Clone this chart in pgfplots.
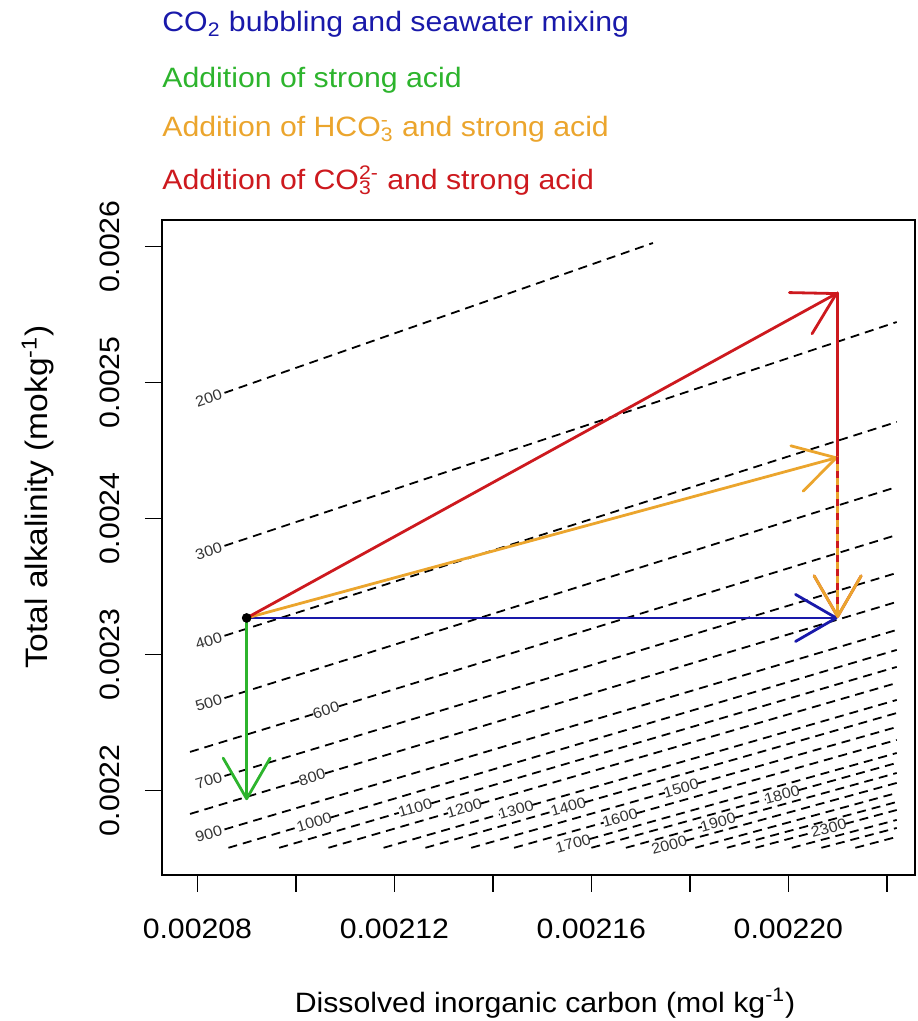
\documentclass[border=0pt]{standalone}
\usepackage{fontspec}
\setmainfont{Liberation Sans}[FakeStretch=1.08]
\usepackage{pgfplots}
\pgfplotsset{compat=1.18}
\usetikzlibrary{arrows.meta}
\definecolor{myblue}{RGB}{25,25,170}
\definecolor{mygreen}{RGB}{45,180,45}
\definecolor{myorange}{RGB}{235,165,45}
\definecolor{myred}{RGB}{205,25,30}
\newcommand{\sbsp}[2]{\mbox{\rlap{\textsuperscript{#2}}\textsubscript{#1}}}
\newcommand{\spsb}[2]{\mbox{\rlap{\textsubscript{#1}}\textsuperscript{#2}}}
\tikzset{
  cont/.style={black, line width=0.9pt, dash pattern=on 4.5pt off 3pt},
  arr/.style={line width=1.4pt, line cap=round, -{Straight Barb[angle=60:23.5pt, round]}},
  clab/.style={font=\fontsize{7.5}{8}\selectfont, text=black!80, inner sep=0pt},
}
\begin{document}
\begin{tikzpicture}[x=1pt,y=1pt,font=\fontsize{14}{16}\selectfont]
\path[use as bounding box] (0,0) rectangle (458.5,510.5);
\begin{axis}[
  at={(81pt,73pt)}, anchor=south west,
  scale only axis, width=376.5pt, height=327.5pt,
  xmin=2072.81, xmax=2225.71, ymin=2138.0, ymax=2619.6,
  axis line style={line width=0.8pt},
  xtick={2080,2100,...,2220},
  xticklabels={0.00208,,0.00212,,0.00216,,0.00220,},
  ytick={2200,2300,...,2600},
  yticklabels={0.0022,0.0023,0.0024,0.0025,0.0026},
  tick align=outside, major tick length=8.5pt,
  xtick pos=bottom, ytick pos=left,
  tick style={black, line width=0.8pt},
  xticklabel style={font=\fontsize{14}{16}\selectfont},
  yticklabel style={rotate=90, anchor=south, font=\fontsize{14}{16}\selectfont},
  xticklabel shift=10pt, yticklabel shift=9pt,
]
% contour lines (pCO2 isolines)
\addplot[cont] coordinates {(2085.5,2492.5) (2172.5,2602.7)};
\addplot[cont] coordinates {(2085.5,2380.0) (2222,2544.6)};
\addplot[cont] coordinates {(2085.5,2313.9) (2222,2471.1)};
\addplot[cont] coordinates {(2085.5,2268.1) (2222,2423.3)};
\addplot[cont] coordinates {(2078.5,2228.5) (2103.5,2256.2)};
\addplot[cont] coordinates {(2108.7,2262.0) (2222,2388.0)};
\addplot[cont] coordinates {(2085.5,2210.8) (2222,2360.1)};
\addplot[cont] coordinates {(2078.5,2182.9) (2100.7,2207.1)};
\addplot[cont] coordinates {(2105.9,2212.7) (2222,2338.8)};
\addplot[cont] coordinates {(2085.5,2171.5) (2222,2318.2)};
\addplot[cont] coordinates {(2086.3,2158) (2100.4,2173.1)};
\addplot[cont] coordinates {(2107.0,2180.2) (2222,2303.5)};
\addplot[cont] coordinates {(2096.6,2158) (2120.9,2183.7)};
\addplot[cont] coordinates {(2127.5,2190.7) (2222,2291.0)};
\addplot[cont] coordinates {(2106.6,2158) (2130.9,2183.5)};
\addplot[cont] coordinates {(2137.5,2190.5) (2222,2279.2)};
\addplot[cont] coordinates {(2117.8,2158) (2141.4,2182.6)};
\addplot[cont] coordinates {(2148.0,2189.5) (2222,2266.7)};
\addplot[cont] coordinates {(2126.3,2158) (2152.0,2184.6)};
\addplot[cont] coordinates {(2158.6,2191.4) (2222,2257.1)};
\addplot[cont] coordinates {(2135.6,2158) (2174.9,2198.4)};
\addplot[cont] coordinates {(2181.5,2205.2) (2222,2246.8)};
\addplot[cont] coordinates {(2144.3,2158) (2162.5,2176.5)};
\addplot[cont] coordinates {(2169.1,2183.3) (2222,2237.3)};
\addplot[cont] coordinates {(2159.6,2164.4) (2222,2227.7)};
\addplot[cont] coordinates {(2160.0,2158) (2195.4,2193.6)};
\addplot[cont] coordinates {(2202.0,2200.3) (2222,2220.4)};
\addplot[cont] coordinates {(2167.0,2158) (2182.4,2173.4)};
\addplot[cont] coordinates {(2189.0,2180.0) (2222,2213.0)};
\addplot[cont] coordinates {(2179.1,2163.2) (2222,2205.7)};
\addplot[cont] coordinates {(2181.1,2158) (2222,2198.3)};
\addplot[cont] coordinates {(2187.5,2158) (2222,2191.7)};
\addplot[cont] coordinates {(2193.3,2158) (2204.9,2169.2)};
\addplot[cont] coordinates {(2211.5,2175.6) (2222,2185.8)};
\addplot[cont] coordinates {(2200.7,2158) (2222,2178.5)};
\addplot[cont] coordinates {(2206.7,2158) (2222,2172.6)};
\addplot[cont] coordinates {(2213.6,2158) (2222,2166.0)};
% contour labels
\node[clab,rotate=19]   at (axis cs:2082.3,2488.4) {200};
\node[clab,rotate=18]   at (axis cs:2082.3,2376.1) {300};
\node[clab,rotate=17.5] at (axis cs:2082.3,2310.2) {400};
\node[clab,rotate=17.4] at (axis cs:2082.3,2264.5) {500};
\node[clab,rotate=17]   at (axis cs:2106.1,2259.1) {600};
\node[clab,rotate=16.8] at (axis cs:2082.3,2207.3) {700};
\node[clab,rotate=16.7] at (axis cs:2103.3,2209.9) {800};
\node[clab,rotate=16.5] at (axis cs:2082.3,2168.0) {900};
\node[clab,rotate=16.5] at (axis cs:2103.7,2176.7) {1000};
\node[clab,rotate=16.3] at (axis cs:2124.2,2187.2) {1100};
\node[clab,rotate=16.2] at (axis cs:2134.2,2187.0) {1200};
\node[clab,rotate=16.1] at (axis cs:2144.7,2186.1) {1300};
\node[clab,rotate=16]   at (axis cs:2155.3,2188.0) {1400};
\node[clab,rotate=15.8] at (axis cs:2178.2,2201.8) {1500};
\node[clab,rotate=15.7] at (axis cs:2165.8,2179.9) {1600};
\node[clab,rotate=15.6] at (axis cs:2156.3,2161.1) {1700};
\node[clab,rotate=15.5] at (axis cs:2198.7,2196.9) {1800};
\node[clab,rotate=15.4] at (axis cs:2185.7,2176.7) {1900};
\node[clab,rotate=15.3] at (axis cs:2175.8,2159.9) {2000};
\node[clab,rotate=15]   at (axis cs:2208.2,2172.4) {2300};
% start point
\addplot[only marks, mark=*, mark size=2.2pt, black] coordinates {(2090,2327)};
% arrows
\addplot[myblue, arr] coordinates {(2090,2327) (2210,2327)};
\addplot[mygreen, arr] coordinates {(2090,2327) (2090,2193)};
\addplot[myorange, arr] coordinates {(2090,2327) (2210,2445)};
\addplot[myred, arr] coordinates {(2090,2327) (2210,2566)};
\addplot[myred, arr] coordinates {(2210,2566) (2210,2327)};
\addplot[myorange, arr] coordinates {(2210,2445) (2210,2327)};
\addplot[myred, line width=1.4pt, dash pattern=on 3.5pt off 3.5pt] coordinates {(2210,2445) (2210,2333)};
\end{axis}
% legend text
\node[anchor=base west, text=myblue, inner sep=0pt] at (81,494.5) {CO\textsubscript{2} bubbling and seawater mixing};
\node[anchor=base west, text=mygreen, inner sep=0pt] at (81,466.5) {Addition of strong acid};
\node[anchor=base west, text=myorange, inner sep=0pt] at (81,442) {Addition of HCO\sbsp{3}{-} and strong acid};
\node[anchor=base west, text=myred, inner sep=0pt] at (81,415.5) {Addition of CO\spsb{3}{2-} and strong acid};
% axis labels
\node[anchor=base, inner sep=0pt] at (272.5,4.5) {Dissolved inorganic carbon (mol kg\textsuperscript{-1})};
\node[anchor=base, rotate=90, inner sep=0pt, font=\fontsize{15.5}{17}\selectfont] at (23.5,262) {Total alkalinity (mokg\textsuperscript{-1})};
\end{tikzpicture}
\end{document}
